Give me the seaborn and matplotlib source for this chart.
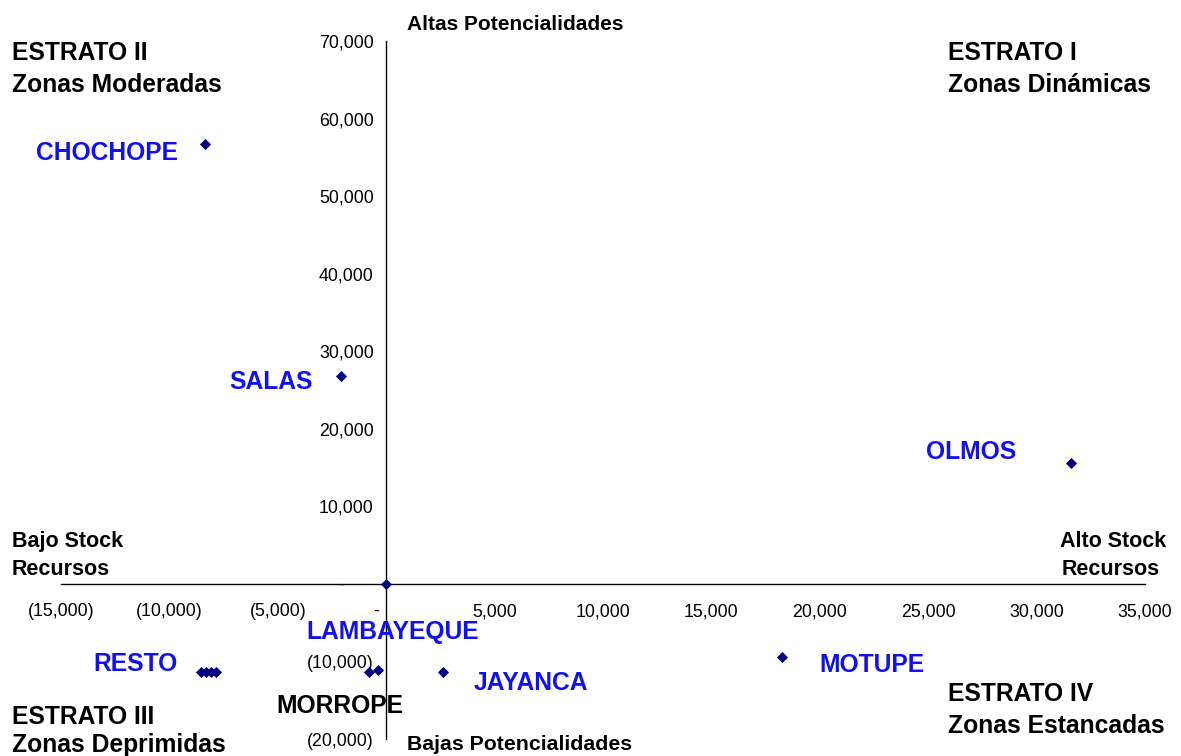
import seaborn as sns
import matplotlib.pyplot as plt
import matplotlib.ticker as mticker
import pandas as pd

# datos (stock de recursos vs potencialidades)
distritos = ['CHOCHOPE', 'SALAS', 'OLMOS', 'LAMBAYEQUE', 'MOTUPE', 'JAYANCA',
             'MORROPE', 'MORROPE', 'RESTO', 'RESTO', 'RESTO', 'RESTO']
stock = [-8340, -2070, 31570, 0, 18250, 2600,
         -790, -370, -8530, -8300, -8065, -7835]
potencial = [56700, 26800, 15600, 0, -9400, -11300,
             -11300, -11100, -11300, -11300, -11300, -11300]

x_ticks = list(range(-15000, 35001, 5000))
y_ticks = list(range(-20000, 70001, 10000))

df = pd.DataFrame({'distrito': distritos, 'stock': stock, 'potencial': potencial})

sns.set_style('white')
plt.rcParams['font.family'] = ['Liberation Sans', 'DejaVu Sans']

W, H = 1181, 756
fig = plt.figure(figsize=(W / 100, H / 100), dpi=100)
ax = fig.add_axes([61 / W, 1 - 739 / H, (1145 - 61) / W, (739 - 41) / H])

sns.scatterplot(data=df, x='stock', y='potencial', marker='D', s=32,
                color='#000080', edgecolor='#000080', linewidth=0, ax=ax, zorder=3)

ax.set_xlim(-15000, 35000)
ax.set_ylim(-20000, 70000)
ax.set_xticks(x_ticks)
ax.set_yticks(y_ticks)


def fmt_x(v, pos):
    if v == 0:
        return '-    '
    if v < 0:
        return '({:,.0f})'.format(-v)
    return '{:,.0f}'.format(v)


def fmt_y(v, pos):
    if v == 0:
        return '-      '
    if v < 0:
        return '({:,.0f})'.format(-v)
    return '{:,.0f}'.format(v)


ax.xaxis.set_major_formatter(mticker.FuncFormatter(fmt_x))
ax.yaxis.set_major_formatter(mticker.FuncFormatter(fmt_y))

for s in ['top', 'right']:
    ax.spines[s].set_visible(False)
ax.spines['left'].set_position(('data', 0))
ax.spines['bottom'].set_position(('data', 0))
for s in ['left', 'bottom']:
    ax.spines[s].set_color('black')
    ax.spines[s].set_linewidth(1.0)

ax.tick_params(axis='x', direction='in', length=4, width=1, color='black',
               labelsize=12.8, labelcolor='black', pad=14)
ax.tick_params(axis='y', direction='out', length=4, width=1, color='black',
               labelsize=12.8, labelcolor='black', pad=5)
ax.set_xlabel('')
ax.set_ylabel('')
ax.grid(False)


def txt(px, py, s, size=17.7, color='black', ha='left'):
    fig.text(px / W, 1 - py / H, s, fontsize=size, fontweight='bold',
             color=color, ha=ha, va='baseline')


# cuadrantes
txt(12, 60, 'ESTRATO II')
txt(12, 92, 'Zonas Moderadas')
txt(948, 60, 'ESTRATO I')
txt(948, 92, 'Zonas Dinámicas')
txt(12, 724, 'ESTRATO III')
txt(12, 752, 'Zonas Deprimidas')
txt(948, 701, 'ESTRATO IV')
txt(948, 733, 'Zonas Estancadas')

txt(407, 30, 'Altas Potencialidades', size=15)
txt(407, 750, 'Bajas Potencialidades', size=15.3)
txt(12, 547, 'Bajo Stock', size=15.5)
txt(12, 575, 'Recursos', size=15.5)
txt(1060, 547, 'Alto Stock', size=15.5)
txt(1062, 575, 'Recursos', size=15.5)

# etiquetas de distritos
azul = '#1010F0'
txt(178, 160, 'CHOCHOPE', color=azul, ha='right')
txt(313, 389, 'SALAS', color=azul, ha='right')
txt(1016, 459, 'OLMOS', color=azul, ha='right')
txt(306, 639, 'LAMBAYEQUE', color=azul)
txt(178, 671, 'RESTO', color=azul, ha='right')
txt(474, 690, 'JAYANCA', color=azul)
txt(819, 672, 'MOTUPE', color=azul)
txt(276, 713, 'MORROPE')

fig.savefig('out.png', dpi=100)
